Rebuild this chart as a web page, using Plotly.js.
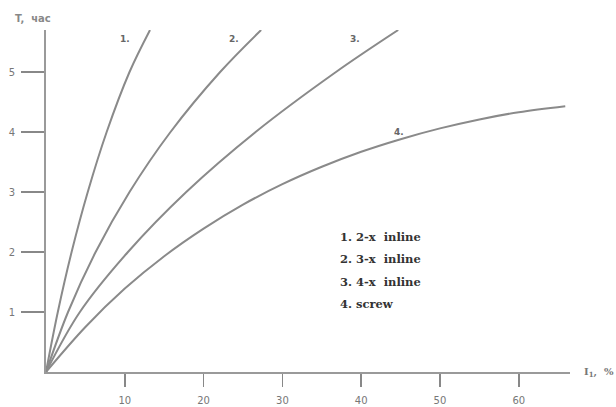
<!DOCTYPE html>
<html>
<head>
<meta charset="utf-8">
<script src="https://cdn.plot.ly/plotly-3.0.1.min.js"></script>
<style>html,body{margin:0;padding:0;background:#fff;}#chart{width:616px;height:407px;}</style>
</head>
<body>
<div id="chart"></div>
<script>
// Curve 1: 2-x inline
const x1 = [0, 1.5, 3.25, 5.3, 7.7, 10.6, 13.2];
const t1 = [0, 1, 2, 3, 4, 5, 5.7];
// Curve 2: 3-x inline
const x2 = [0, 2.8, 6.3, 10.6, 15.8, 22.1, 27.3];
const t2 = [0, 1, 2, 3, 4, 5, 5.7];
// Curve 3: 4-x inline
const x3 = [0, 4.3, 10.4, 17.8, 26.6, 36.8, 44.7];
const t3 = [0, 1, 2, 3, 4, 5, 5.7];
// Curve 4: screw
const x4 = [0, 5, 10, 15, 20, 25, 30, 35, 40, 45, 50, 55, 60, 65.9];
const t4 = [0, 0.75, 1.39, 1.93, 2.39, 2.79, 3.13, 3.42, 3.67, 3.88, 4.06, 4.21, 4.33, 4.43];

const xTicks = [10, 20, 30, 40, 50, 60];
const yTicks = [1, 2, 3, 4, 5];
const legendLines = ['1. 2-x\u00a0\u00a0inline', '2. 3-x\u00a0\u00a0inline', '3. 4-x\u00a0\u00a0inline', '4. screw'];
const curveLabels = ['1.', '2.', '3.', '4.'];
const curveLabelPos = [[10.0, 5.55], [23.8, 5.55], [39.2, 5.55], [44.8, 4.0]];

const lineStyle = {color: '#8a8a8a', width: 2, shape: 'spline', smoothing: 1};
const series = [[x1, t1], [x2, t2], [x3, t3], [x4, t4]];
const traces = series.map(([x, y]) => ({x, y, mode: 'lines', line: lineStyle, hoverinfo: 'skip'}));

const annotations = [];
curveLabels.forEach((txt, i) => annotations.push({
  x: curveLabelPos[i][0], y: curveLabelPos[i][1], xref: 'x', yref: 'y', text: '<b>' + txt + '</b>', showarrow: false,
  font: {family: 'DejaVu Sans', size: 9, color: '#666'}, xanchor: 'center', yanchor: 'middle'
}));
legendLines.forEach((txt, i) => annotations.push({
  x: 37.0, y: 2.25 - i * 0.372, xref: 'x', yref: 'y', text: '<b>' + txt + '</b>', showarrow: false,
  font: {family: 'DejaVu Serif', size: 11.5, color: '#333'}, xanchor: 'left', yanchor: 'middle'
}));
annotations.push({x: 0, y: 1, xref: 'paper', yref: 'paper', xshift: -33, yshift: 12, text: '<b>T,\u00a0\u00a0час</b>',
  showarrow: false, font: {family: 'DejaVu Sans', size: 10, color: '#888'}, xanchor: 'left', yanchor: 'middle'});
annotations.push({x: 1, y: 0, xref: 'paper', yref: 'paper', xshift: 12, text: '<b>I<sub>1</sub>,\u00a0\u00a0%</b>',
  showarrow: false, font: {family: 'DejaVu Serif', size: 10, color: '#777'}, xanchor: 'left', yanchor: 'middle'});

const layout = {
  width: 616, height: 407,
  margin: {l: 46, r: 46, t: 30, b: 35},
  paper_bgcolor: '#fff', plot_bgcolor: '#fff',
  showlegend: false,
  xaxis: {
    range: [0, 66.5], tickvals: xTicks, ticktext: xTicks.map(String),
    showgrid: false, zeroline: false, showline: true, linecolor: '#9a9a9a', linewidth: 2,
    ticks: 'outside', ticklen: 13, tickwidth: 1.5, tickcolor: '#888',
    ticklabelstandoff: 5,
    tickfont: {family: 'DejaVu Sans', size: 10, color: '#777'}
  },
  yaxis: {
    range: [0, 5.7], tickvals: yTicks, ticktext: yTicks.map(String),
    showgrid: false, zeroline: false, showline: true, linecolor: '#9a9a9a', linewidth: 2,
    ticks: 'outside', ticklen: 23, tickwidth: 1.5, tickcolor: '#888',
    ticklabelstandoff: 4,
    tickfont: {family: 'DejaVu Sans', size: 10, color: '#777'}
  },
  annotations
};
Plotly.newPlot('chart', traces, layout, {displayModeBar: false, staticPlot: true});
</script>
</body>
</html>
